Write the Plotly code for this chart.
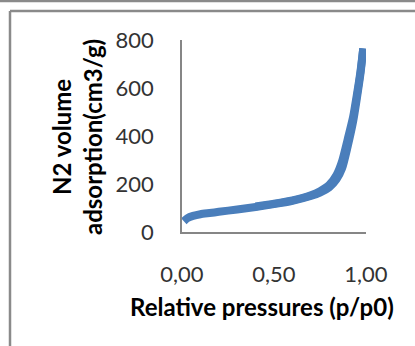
import plotly.graph_objects as go

# N2 sorption isotherm (adsorption and desorption branches)
p_ads = [0.01, 0.03, 0.06, 0.10, 0.15, 0.20, 0.30, 0.40, 0.50, 0.60, 0.70, 0.75,
         0.80, 0.84, 0.87, 0.90, 0.93, 0.95, 0.97, 0.985]
v_ads = [45, 58, 67, 74, 79, 84, 94, 104, 116, 130, 150, 164,
         186, 220, 265, 355, 460, 555, 660, 765]

p_des = [0.985, 0.97, 0.95, 0.93, 0.90, 0.87, 0.84, 0.80, 0.75, 0.70, 0.60, 0.50, 0.40]
v_des = [765, 670, 570, 480, 385, 295, 238, 196, 170, 153, 132, 118, 106]

x_tickvals = [0.0, 0.5, 1.0]
x_ticktext = ["0,00", "0,50", "1,00"]
y_tickvals = [0, 200, 400, 600, 800]

W, H = 415, 346
L, R, T, B = 182, 49, 40, 114
PW, PH = W - L - R, H - T - B

def px(x):
    return (x - L) / PW

def py(y):
    return (H - B - y) / PH

LINE = "#4a7ebb"
FONT = "Lato"

fig = go.Figure()
for xs, ys in ((p_ads, v_ads), (p_des, v_des)):
    fig.add_trace(go.Scatter(x=xs, y=ys, mode="lines",
                             line=dict(color=LINE, width=8, shape="spline", smoothing=0.6),
                             hoverinfo="skip"))

axis_common = dict(showgrid=False, zeroline=False, showline=True,
                   linecolor="#868686", linewidth=1.5, ticks="",
                   tickfont=dict(family=FONT, size=22, color="#333333"),
                   ticklabelstandoff=22)

fig.update_xaxes(range=[0, 1.0], tickvals=x_tickvals, ticktext=x_ticktext, **axis_common)
fig.update_yaxes(range=[0, 800], tickvals=y_tickvals, **axis_common)

fig.add_annotation(text="N2 volume<br>adsorption(cm3/g)", textangle=-90,
                   xref="paper", yref="paper", x=px(77), y=py(137),
                   showarrow=False, xanchor="center", yanchor="middle",
                   font=dict(family=FONT, size=24, color="#000000", weight="bold"))
fig.add_annotation(text="Relative pressures (p/p0)",
                   xref="paper", yref="paper", x=px(262), y=py(306),
                   showarrow=False, xanchor="center", yanchor="middle",
                   font=dict(family=FONT, size=24, color="#000000", weight="bold"))

# chart frame lines
frame = dict(color="#8a8a8a", width=2.5)
fig.add_shape(type="line", xref="paper", yref="paper",
              x0=px(-5), x1=px(W + 5), y0=py(1), y1=py(1), line=frame)
fig.add_shape(type="line", xref="paper", yref="paper",
              x0=px(10), x1=px(W + 5), y0=py(11), y1=py(11), line=frame)
fig.add_shape(type="line", xref="paper", yref="paper",
              x0=px(10), x1=px(10), y0=py(11), y1=py(H + 5), line=frame)

fig.update_layout(width=W, height=H, margin=dict(l=L, r=R, t=T, b=B),
                  paper_bgcolor="white", plot_bgcolor="white", showlegend=False)

fig.write_html("out.html")
